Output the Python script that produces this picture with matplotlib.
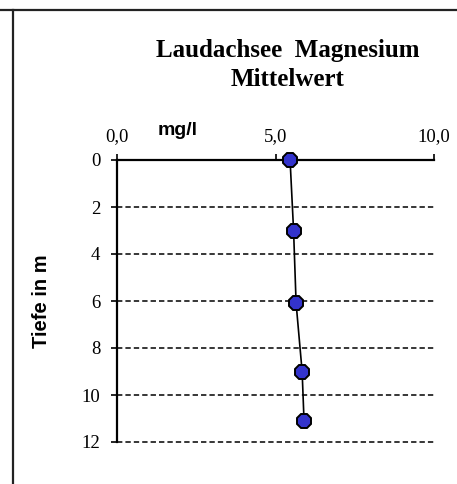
import numpy as np
import matplotlib.pyplot as plt
from matplotlib.lines import Line2D

# Mittelwerte Magnesium (mg/l) je Tiefe (m)
tiefe = [0, 3, 6.1, 9, 11.1]
magnesium = [5.46, 5.57, 5.65, 5.84, 5.90]
x_ticks = [0, 5, 10]
x_labels = ['0,0', '5,0', '10,0']
y_ticks = [0, 2, 4, 6, 8, 10, 12]

fig = plt.figure(figsize=(4.57, 4.84), dpi=100)
ax = fig.add_axes([117/457, 1-442/484, (434-117)/457, (442-160)/484])

ax.plot(magnesium, tiefe, color='black', lw=1.2, marker='8', markersize=11,
        markerfacecolor='#3333cc', markeredgecolor='black', markeredgewidth=1.4,
        zorder=3, clip_on=False)

ax.set_xlim(0, 10)
ax.set_ylim(12, 0)
ax.xaxis.tick_top()
ax.set_xticks(x_ticks)
ax.set_xticklabels(x_labels, family='Liberation Serif', fontsize=13.5)
ax.set_yticks(y_ticks)
ax.set_yticklabels([str(t) for t in y_ticks], family='Liberation Serif', fontsize=13.5)
ax.tick_params(axis='y', length=4, width=1.2, color='black', pad=8)
ax.tick_params(axis='x', length=4, width=1.2, color='black', pad=7)

for s in ['right', 'bottom']:
    ax.spines[s].set_visible(False)
for s in ['left', 'top']:
    ax.spines[s].set_linewidth(1.6)

for t in y_ticks[1:]:
    ax.axhline(t, color='black', lw=1.1, ls=(0, (3.5, 2)), zorder=1, clip_on=False)

ax.text(1.92, 1.09, 'mg/l', transform=ax.get_xaxis_transform(), ha='center', va='baseline',
        family='Liberation Sans', fontweight='bold', fontsize=14)
ax.set_ylabel('Tiefe in m', family='Liberation Sans', fontweight='bold', fontsize=14.5, labelpad=22)

fig.text(288/457, 1-51/484, 'Laudachsee  Magnesium', ha='center', va='center',
         family='Liberation Serif', fontweight='bold', fontsize=18)
fig.text(288/457, 1-80/484, 'Mittelwert', ha='center', va='center',
         family='Liberation Serif', fontweight='bold', fontsize=18)

# Rahmen des Diagrammbereichs
fig.add_artist(Line2D([0, 1], [1-10/484, 1-10/484], color='#222222', lw=1.6, transform=fig.transFigure))
fig.add_artist(Line2D([13/457, 13/457], [0, 1-10/484], color='#222222', lw=1.6, transform=fig.transFigure))

fig.savefig('out.png', dpi=100)
